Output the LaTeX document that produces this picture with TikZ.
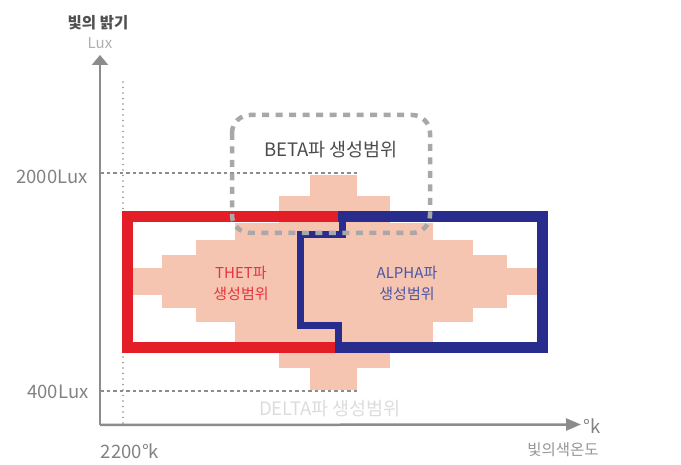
\documentclass[tikz,border=0pt]{standalone}
\usepackage{fontspec}
\setmainfont{Noto Sans CJK KR}
\usetikzlibrary{arrows.meta}
\definecolor{salmon}{RGB}{246,197,178}
\definecolor{redline}{RGB}{228,30,38}
\definecolor{blueline}{RGB}{40,44,140}
\definecolor{axisgray}{RGB}{140,140,140}
\definecolor{betagray}{RGB}{168,168,168}
\definecolor{labgray}{RGB}{130,130,130}
\tikzset{
  ax/.style={draw=axisgray, line width=2.5pt},
  guide/.style={draw=axisgray, line width=1.3pt, dash pattern=on 3.5pt off 3pt},
  dotguide/.style={draw=axisgray, line width=1.8pt, line cap=round, dash pattern=on 0pt off 5.5pt},
  thickline/.style={line width=11pt, line join=miter},
  notchline/.style={line width=7pt, line join=miter},
  beta/.style={draw=betagray, line width=4.5pt, dash pattern=on 7pt off 6.5pt, rounded corners=18pt},
  lbl/.style={inner sep=0pt, font=\fontsize{18.5}{22}\selectfont, text=labgray},
  zonelbl/.style={inner sep=0pt, align=center, font=\fontsize{15}{21}\selectfont},
  biglbl/.style={inner sep=0pt, font=\fontsize{18.5}{22}\selectfont}
}
\begin{document}
\begin{tikzpicture}[x=1pt, y=-1pt]
\useasboundingbox (0,0) rectangle (681,465);
% salmon stepped zone
\fill[salmon] (310,175) rectangle (357,390);
\fill[salmon] (279,196) rectangle (390,368);
\fill[salmon] (235,223) rectangle (433,343);
\fill[salmon] (196,240) rectangle (473,322);
\fill[salmon] (162,255) rectangle (507,308);
\fill[salmon] (130,268) rectangle (540,295);
% guides
\coordinate (o) at (100,425);
\coordinate (ytop) at (100,55);
\coordinate (xend) at (581,424.5);
\coordinate (d1) at (123,82);
\coordinate (d2) at (123,425);
\coordinate (g1a) at (100,173);
\coordinate (g1b) at (357,173);
\coordinate (g2a) at (100,391);
\coordinate (g2b) at (357,391);
\draw[dotguide] (d1) -- (d2);
\draw[guide] (g1a) -- (g1b);
\draw[guide] (g2a) -- (g2b);
% axes
\draw[ax, -{Triangle[length=10pt,width=16pt]}] (o) -- (ytop);
\draw[ax, -{Triangle[length=15pt,width=12pt]}] (o) -- (xend);
% red THETA box
\coordinate (r1) at (338,217);
\coordinate (r2) at (127.5,217);
\coordinate (r3) at (127.5,348);
\coordinate (r4) at (338,348);
\draw[redline, thickline] (r1) -- (r2) -- (r3) -- (r4);
% blue ALPHA box
\coordinate (b1) at (338,217);
\coordinate (b2) at (542.5,217);
\coordinate (b3) at (542.5,348);
\coordinate (b4) at (336,348);
\draw[blueline, thickline] (b1) -- (b2) -- (b3) -- (b4);
\coordinate (n1) at (342,212);
\coordinate (n2) at (342,235);
\coordinate (n3) at (300,235);
\coordinate (n4) at (300,326);
\coordinate (n5) at (338,326);
\coordinate (n6) at (338,353);
\draw[blueline, notchline] (n1) -- (n2) -- (n3) -- (n4) -- (n5) -- (n6);
% BETA dashed rounded box
\draw[beta] (232,115) rectangle (430,233);
% labels
\node[inner sep=0pt, font=\fontsize{15.5}{18}\selectfont\bfseries, text={rgb,255:red,80;green,80;blue,80}] (ylab) at (98,23) {빛의 밝기};
\node[inner sep=0pt, font=\fontsize{15}{18}\selectfont, text={rgb,255:red,175;green,175;blue,175}] (yunit) at (100,43) {Lux};
\node[lbl] (l2000) at (52,177) {2000Lux};
\node[lbl] (l400) at (58,392) {400Lux};
\node[lbl] (l2200) at (130,451) {2200°k};
\node[lbl] (lk) at (592,426) {°k};
\node[inner sep=0pt, font=\fontsize{15.5}{18}\selectfont, text={rgb,255:red,150;green,150;blue,150}] (xlab) at (563,450) {빛의색온도};
\node[biglbl, text={rgb,255:red,75;green,75;blue,75}] (betalbl) at (331,150) {BETA파 생성범위};
\node[zonelbl, text={rgb,255:red,232;green,50;blue,60}] (thetlbl) at (241,283) {THET파\\생성범위};
\node[zonelbl, text={rgb,255:red,74;green,86;blue,166}] (alphalbl) at (407,283) {ALPHA파\\생성범위};
\node[biglbl, text={rgb,255:red,220;green,220;blue,220}] (deltalbl) at (330,409) {DELTA파 생성범위};
\end{tikzpicture}
\end{document}
